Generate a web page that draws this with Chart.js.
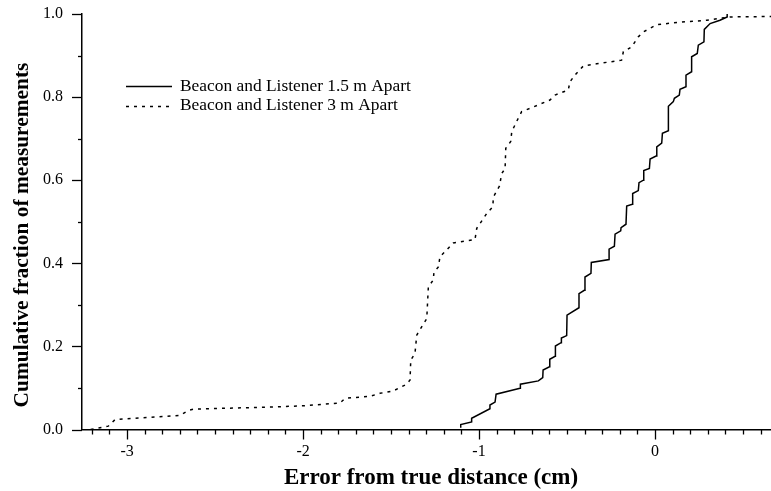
<!DOCTYPE html>
<html>
<head>
<meta charset="utf-8">
<script src="https://cdn.jsdelivr.net/npm/chart.js@4.4.1/dist/chart.umd.min.js"></script>
<style>
  html, body { margin: 0; padding: 0; background: #fff; }
  #wrap { width: 771px; height: 491px; }
</style>
</head>
<body>
<div id="wrap"><canvas id="c" width="771" height="491"></canvas></div>
<script>
// ---- Data ----
const seriesNames = ["Beacon and Listener 1.5 m Apart", "Beacon and Listener 3 m Apart"];
const xTitle = "Error from true distance (cm)";
const yTitle = "Cumulative fraction of measurements";

// 1.5 m apart (solid)
const near_x = [-1.104,-1.104,-1.042,-1.042,-0.938,-0.938,-0.909,-0.903,-0.767,-0.765,-0.663,-0.638,-0.636,-0.600,-0.598,-0.568,-0.566,-0.534,-0.532,-0.502,-0.500,-0.432,-0.432,-0.402,-0.398,-0.364,-0.362,-0.261,-0.261,-0.231,-0.227,-0.195,-0.193,-0.165,-0.161,-0.129,-0.127,-0.095,-0.091,-0.066,-0.064,-0.032,-0.028,0.006,0.010,0.038,0.042,0.076,0.076,0.104,0.110,0.138,0.142,0.176,0.176,0.208,0.208,0.240,0.246,0.278,0.280,0.313,0.369,0.410,0.410];
const near_y = [0.004,0.012,0.018,0.027,0.050,0.059,0.066,0.085,0.099,0.109,0.117,0.125,0.143,0.151,0.169,0.176,0.201,0.209,0.220,0.226,0.275,0.293,0.327,0.335,0.367,0.376,0.402,0.409,0.434,0.441,0.470,0.478,0.486,0.494,0.538,0.542,0.568,0.575,0.594,0.600,0.623,0.628,0.651,0.658,0.680,0.689,0.713,0.719,0.778,0.789,0.797,0.805,0.819,0.825,0.853,0.861,0.897,0.905,0.925,0.933,0.963,0.977,0.985,0.993,1.000];

// 3 m apart (dotted)
const far_x = [-3.207,-3.107,-3.068,-2.699,-2.651,-2.622,-2.188,-2.000,-1.790,-1.761,-1.619,-1.563,-1.487,-1.411,-1.392,-1.388,-1.364,-1.354,-1.326,-1.297,-1.288,-1.260,-1.256,-1.231,-1.222,-1.184,-1.146,-1.023,-1.013,-0.956,-0.922,-0.918,-0.884,-0.871,-0.852,-0.848,-0.820,-0.814,-0.782,-0.758,-0.710,-0.597,-0.568,-0.493,-0.483,-0.455,-0.407,-0.332,-0.190,-0.180,-0.133,-0.095,-0.066,0.009,0.104,0.294,0.426,0.670];
const far_y = [0.000,0.008,0.024,0.034,0.046,0.049,0.054,0.057,0.064,0.075,0.080,0.087,0.093,0.109,0.119,0.167,0.183,0.227,0.247,0.267,0.343,0.360,0.379,0.391,0.416,0.432,0.449,0.457,0.484,0.520,0.536,0.560,0.586,0.616,0.628,0.677,0.693,0.717,0.745,0.765,0.773,0.793,0.805,0.817,0.837,0.853,0.875,0.880,0.889,0.909,0.921,0.945,0.957,0.974,0.979,0.985,0.993,0.994];

const xLabelValues = [-3, -2, -1, 0];
const yLabelValues = [0, 0.2, 0.4, 0.6, 0.8, 1.0];

const pts = (xs, ys) => xs.map((x, i) => ({ x: x, y: ys[i] }));

const SERIF = '"Liberation Serif", "Times New Roman", serif';
const near = (a, b) => Math.abs(a - b) < 1e-6;

const decorPlugin = {
  id: 'decor',
  afterDraw(chart) {
    const ctx = chart.ctx;
    const xs = chart.scales.x, ys = chart.scales.y;
    const ca = chart.chartArea;
    ctx.save();
    ctx.strokeStyle = '#000';
    ctx.lineWidth = 1.3;
    ctx.setLineDash([]);
    // x ticks
    xs.ticks.forEach(t => {
      const v = t.value;
      if (!near(v * 10, Math.round(v * 10))) return;
      const major = xLabelValues.some(m => near(m, v));
      const px = Math.round(xs.getPixelForValue(v)) + 0.5;
      if (px < ca.left - 1 || px > ca.right + 1) return;
      ctx.beginPath();
      ctx.moveTo(px, ca.bottom);
      ctx.lineTo(px, ca.bottom + (major ? 10 : 5));
      ctx.stroke();
    });
    // y ticks
    ys.ticks.forEach(t => {
      const v = t.value;
      if (!near(v * 10, Math.round(v * 10))) return;
      const major = yLabelValues.some(m => near(m, v));
      const py = Math.round(ys.getPixelForValue(v)) + 0.5;
      ctx.beginPath();
      ctx.moveTo(ca.left, py);
      ctx.lineTo(ca.left - (major ? 10 : 4), py);
      ctx.stroke();
    });
    // legend
    const ds = chart.data.datasets;
    const rows = [86.2, 105.8];
    ctx.font = '17.4px ' + SERIF;
    ctx.fillStyle = '#000';
    ctx.textBaseline = 'middle';
    ctx.textAlign = 'left';
    ds.forEach((d, i) => {
      ctx.save();
      ctx.lineWidth = d.borderWidth;
      ctx.setLineDash(d.borderDash || []);
      ctx.beginPath();
      ctx.moveTo(126, Math.round(rows[i]) + 0.5);
      ctx.lineTo(172, Math.round(rows[i]) + 0.5);
      ctx.stroke();
      ctx.restore();
      ctx.fillText(d.label, 180, rows[i]);
    });
    // axis titles
    ctx.font = 'bold 23px ' + SERIF;
    ctx.textAlign = 'center';
    ctx.textBaseline = 'alphabetic';
    ctx.fillText(xTitle, 431, 484);
    ctx.save();
    ctx.font = 'bold 21.4px ' + SERIF;
    ctx.translate(28, 235);
    ctx.rotate(-Math.PI / 2);
    ctx.fillText(yTitle, 0, 0);
    ctx.restore();
    ctx.restore();
  }
};

new Chart(document.getElementById('c'), {
  type: 'scatter',
  data: {
    datasets: [
      { label: seriesNames[0], data: pts(near_x, near_y), showLine: true,
        borderColor: '#000', backgroundColor: '#000', borderWidth: 1.5,
        pointRadius: 0, tension: 0, fill: false },
      { label: seriesNames[1], data: pts(far_x, far_y), showLine: true,
        borderColor: '#000', backgroundColor: '#000', borderWidth: 1.5,
        borderDash: [3, 5], pointRadius: 0, tension: 0, fill: false }
    ]
  },
  options: {
    responsive: false,
    animation: false,
    devicePixelRatio: 1,
    layout: { autoPadding: false, padding: { top: 14, right: 0, left: 0, bottom: 0 } },
    plugins: { legend: { display: false }, tooltip: { enabled: false } },
    scales: {
      x: {
        type: 'linear', min: -3.256, max: 0.659,
        grid: { display: false, drawTicks: false },
        border: { display: true, color: '#000', width: 1.5 },
        ticks: {
          stepSize: 0.1, autoSkip: false, maxRotation: 0, includeBounds: false,
          padding: 13, color: '#000', font: { family: SERIF, size: 16 },
          callback: v => { const m = xLabelValues.find(k => near(k, v)); return m === undefined ? '' : String(m); }
        },
        afterFit: s => { s.height = 61.5; s.paddingLeft = 0; s.paddingRight = 0; }
      },
      y: {
        type: 'linear', min: 0, max: 1,
        grid: { display: false, drawTicks: false },
        border: { display: true, color: '#000', width: 1.5 },
        ticks: {
          stepSize: 0.1, autoSkip: false, includeBounds: false,
          padding: 19, color: '#000', font: { family: SERIF, size: 16 },
          callback: v => { const m = yLabelValues.find(k => near(k, v)); return m === undefined ? '' : m.toFixed(1); }
        },
        afterFit: s => { s.width = 82; s.paddingTop = 0; s.paddingBottom = 0; }
      }
    }
  },
  plugins: [decorPlugin]
});
</script>
</body>
</html>
